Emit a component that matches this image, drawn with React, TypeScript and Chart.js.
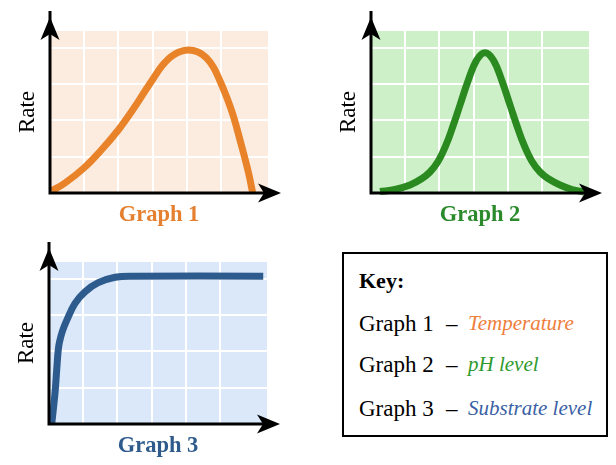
import React, { useEffect, useRef } from 'react';
import { Chart, registerables } from 'chart.js';

Chart.register(...registerables);

// ---- data (x in grid units*10, y in grid units*10) ----
const G1_X = [0.5, 4.38, 9.73, 14.61, 19.96, 24.34, 27.76, 30.19, 32.14, 33.61, 35.07, 37.5, 40.41, 43.25, 45.59, 47.72, 49.68, 51.72, 53.57, 55.52, 57.95, 59.23];
const G1_Y = [0.55, 2.75, 6.75, 11.43, 17.35, 23.13, 28.08, 31.53, 34.28, 35.93, 37.28, 38.77, 39.37, 38.82, 37.31, 34.69, 30.84, 26.16, 21.2, 14.59, 5.78, 0];

const G2_X = [2.63, 7.01, 11.4, 14.9, 17.24, 19.58, 21.92, 23.96, 26.01, 28.35, 30.89, 33.31, 35.74, 38.28, 40.62, 42.67, 44.71, 47.05, 49.39, 51.72, 55.23, 58.74, 62.24];
const G2_Y = [0.41, 0.96, 2.2, 3.99, 5.78, 8.67, 13.22, 18.45, 24.23, 30.84, 36.62, 38.63, 36.62, 30.84, 24.23, 18.45, 13.22, 8.67, 5.78, 3.99, 2.2, 0.96, 0.28];

const G3_X = [0.8, 1.75, 2.25, 2.7, 3.07, 3.89, 5.2, 7.6, 10.5, 14.4, 19.3, 24.6, 62.6];
const G3_Y = [0, 8.5, 14.9, 20.4, 22.58, 25.47, 28.6, 33.2, 36.4, 38.9, 40.4, 40.7, 40.7];

const X_MAX = 63.7;
const Y_MAX = 44.6;
const GRID_STEP = 10;

const AXIS_LABEL = 'Rate';
const GRAPH_TITLES = ['Graph 1', 'Graph 2', 'Graph 3'];
const KEY_TITLE = 'Key:';
const KEY_FACTORS = ['Temperature', 'pH level', 'Substrate level'];

const LINE_COLORS = ['#E8832A', '#2A8A1F', '#2E5B8E'];
const BG_COLORS = ['#FCEBDF', '#CDF0C9', '#DAE8FA'];
const TITLE_COLORS = ['#E4802F', '#2B8A2B', '#2F5B8C'];
const KEY_COLORS = ['#EE7E3C', '#2E9A2E', '#3A5FA4'];

const SERIF = '"Liberation Serif", "Times New Roman", serif';

function drawArrow(ctx: CanvasRenderingContext2D, tx: number, ty: number, dx: number, dy: number) {
  const L = 23, W = 9.5, N = 6;
  const px = -dy, py = dx;
  ctx.beginPath();
  ctx.moveTo(tx, ty);
  ctx.lineTo(tx - dx * L + px * W, ty - dy * L + py * W);
  ctx.lineTo(tx - dx * (L - N), ty - dy * (L - N));
  ctx.lineTo(tx - dx * L - px * W, ty - dy * L - py * W);
  ctx.closePath();
  ctx.fill();
}

function makeDecor(bg: string) {
  return {
    id: 'decor',
    beforeDraw(chart: any) {
      const { ctx, chartArea: a } = chart;
      ctx.save();
      ctx.fillStyle = bg;
      ctx.fillRect(a.left, a.top, a.right - a.left, a.bottom - a.top);
      ctx.restore();
    },
    afterDraw(chart: any) {
      const { ctx, chartArea: a } = chart;
      ctx.save();
      ctx.strokeStyle = '#000';
      ctx.fillStyle = '#000';
      ctx.lineWidth = 3;
      ctx.beginPath();
      ctx.moveTo(a.left, a.bottom + 1.5);
      ctx.lineTo(a.left, a.top - 20);
      ctx.moveTo(a.left - 1.5, a.bottom);
      ctx.lineTo(a.right + 5, a.bottom);
      ctx.stroke();
      drawArrow(ctx, a.left, a.top - 14, 0, -1);
      drawArrow(ctx, a.right + 13, a.bottom, 1, 0);
      ctx.restore();
    },
  };
}

const keepGrid = (axis: any) => {
  axis.ticks = axis.ticks.filter((t: any) => t.value > 0 && Math.abs(t.value % GRID_STEP) < 1e-6);
};

function Graph(props: { xs: number[]; ys: number[]; idx: number; left: number; top: number }) {
  const ref = useRef<HTMLCanvasElement>(null);
  const { xs, ys, idx, left, top } = props;
  useEffect(() => {
    const chart = new Chart(ref.current as HTMLCanvasElement, {
      type: 'line',
      data: {
        datasets: [
          {
            data: xs.map((x, i) => ({ x, y: ys[i] })),
            borderColor: LINE_COLORS[idx],
            borderWidth: 7,
            pointRadius: 0,
            tension: 0.4,
            fill: false,
            clip: false as any,
          },
        ],
      },
      options: {
        animation: false,
        responsive: false,
        events: [],
        layout: { padding: { left: 14.2, top: 31, right: 32, bottom: 0 } },
        plugins: { legend: { display: false }, tooltip: { enabled: false } },
        scales: {
          x: {
            type: 'linear',
            min: 0,
            max: X_MAX,
            afterBuildTicks: keepGrid,
            ticks: { display: false, stepSize: GRID_STEP },
            grid: { color: '#ffffff', lineWidth: 2, drawTicks: false },
            border: { display: false },
            title: {
              display: true,
              text: GRAPH_TITLES[idx],
              color: TITLE_COLORS[idx],
              font: { family: SERIF, size: 22.5, weight: 'bold' },
              padding: { top: 8.5, bottom: 3.5 },
            },
          },
          y: {
            type: 'linear',
            min: 0,
            max: Y_MAX,
            afterBuildTicks: keepGrid,
            ticks: { display: false, stepSize: GRID_STEP },
            grid: { color: '#ffffff', lineWidth: 2, drawTicks: false },
            border: { display: false },
            title: {
              display: true,
              text: AXIS_LABEL,
              color: '#000',
              font: { family: SERIF, size: 23 },
              padding: { top: 0, bottom: 8.2 },
            },
          },
        },
      },
      plugins: [makeDecor(BG_COLORS[idx])],
    } as any);
    return () => chart.destroy();
  }, []);
  return <canvas ref={ref} width={300} height={232} style={{ position: 'absolute', left, top }} />;
}

const textBase: React.CSSProperties = {
  position: 'absolute',
  fontFamily: SERIF,
  fontSize: 23,
  lineHeight: '23px',
  color: '#000',
  whiteSpace: 'nowrap',
};

export default function App() {
  const tops = [311.7, 352.7, 396.7];
  return (
    <div
      style={{
        position: 'absolute',
        left: 0,
        top: 0,
        width: 616,
        height: 465,
        background: '#fff',
        overflow: 'hidden',
      }}
    >
      <Graph xs={G1_X} ys={G1_Y} idx={0} left={0} top={0} />
      <Graph xs={G2_X} ys={G2_Y} idx={1} left={321} top={0} />
      <Graph xs={G3_X} ys={G3_Y} idx={2} left={-1} top={231} />
      <div
        style={{
          position: 'absolute',
          left: 342,
          top: 252,
          width: 266,
          height: 185,
          boxSizing: 'border-box',
          border: '2px solid #000',
        }}
      />
      <div style={{ ...textBase, left: 359, top: 269.6, fontSize: 22, lineHeight: '22px', fontWeight: 'bold' }}>{KEY_TITLE}</div>
      {KEY_FACTORS.map((f, i) => (
        <React.Fragment key={f}>
          <div style={{ ...textBase, left: 359, top: tops[i] }}>{GRAPH_TITLES[i]}</div>
          <div style={{ ...textBase, left: 446, top: tops[i] }}>–</div>
          <div
            style={{
              ...textBase,
              left: 468,
              top: tops[i],
              fontSize: 21,
              fontStyle: 'italic',
              color: KEY_COLORS[i],
            }}
          >
            {f}
          </div>
        </React.Fragment>
      ))}
    </div>
  );
}
